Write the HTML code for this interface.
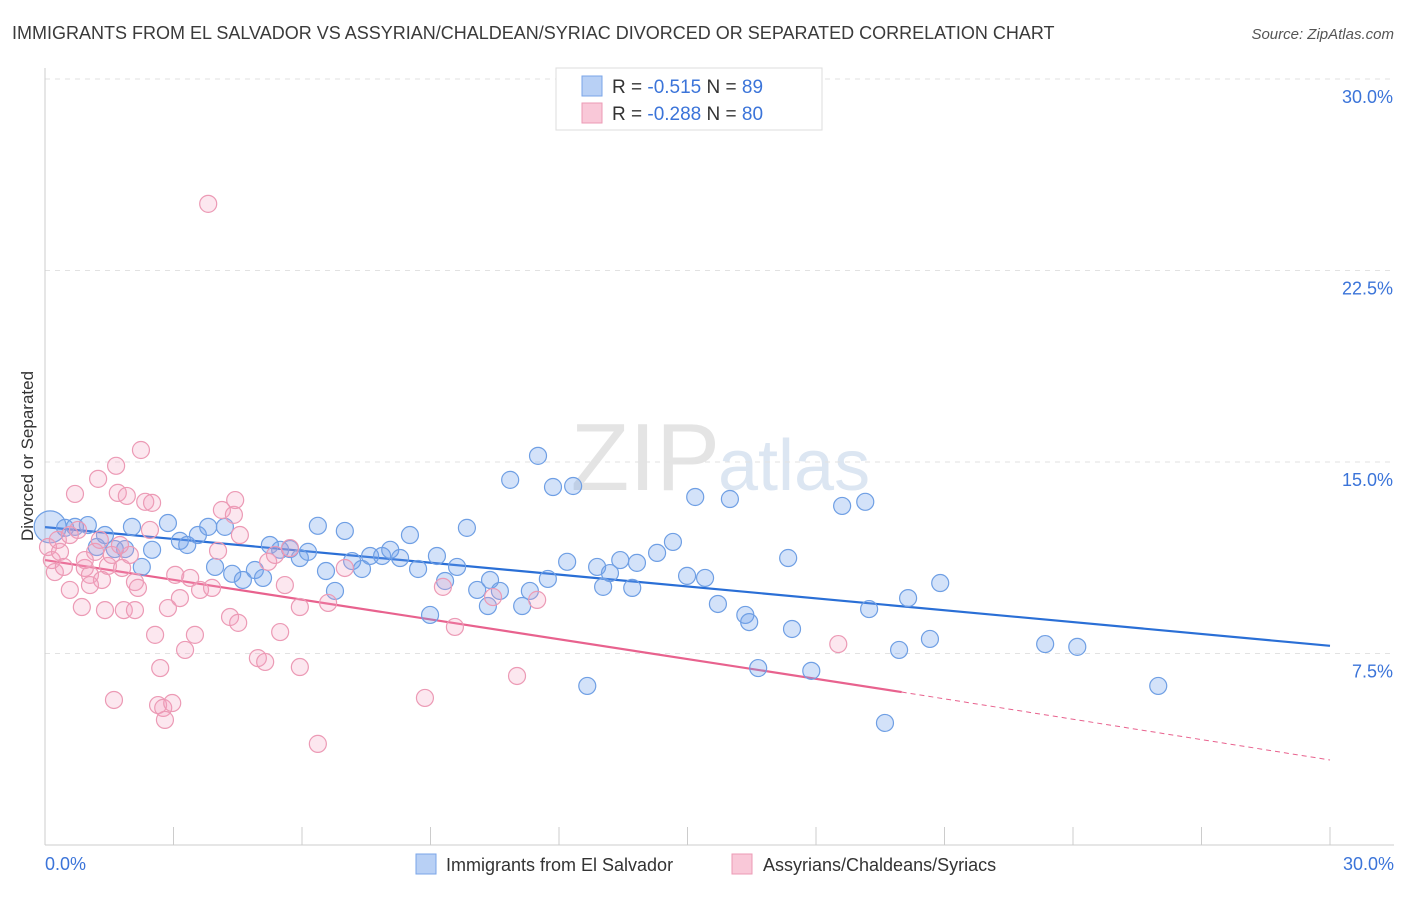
<!DOCTYPE html>
<html><head><meta charset="utf-8"><style>
body{margin:0;background:#fff;font-family:"Liberation Sans",sans-serif}
svg text{font-family:"Liberation Sans",sans-serif}
</style></head><body>
<svg id="chart" width="1406" height="892" xmlns="http://www.w3.org/2000/svg">
<text x="12" y="39" font-size="18" fill="#3a3a3a">IMMIGRANTS FROM EL SALVADOR VS ASSYRIAN/CHALDEAN/SYRIAC DIVORCED OR SEPARATED CORRELATION CHART</text>
<text x="1394" y="39" font-size="15" fill="#555" text-anchor="end" font-style="italic">Source: ZipAtlas.com</text>
<text x="720" y="490" font-size="96" fill="#e4e4e4" text-anchor="end" font-family="Liberation Serif">ZIP</text>
<text x="718" y="490" font-size="72" fill="#dce6f2">atlas</text>
<text transform="translate(33,456) rotate(-90)" font-size="17" fill="#333" text-anchor="middle">Divorced or Separated</text>
<g id="grid"></g><g id="axes"></g><g id="trends"></g><g id="pts"></g>
<g>
<rect x="556" y="68" width="266" height="62" fill="#fff" stroke="#ddd"/>
<rect x="582" y="76" width="20" height="20" fill="#b8d0f5" stroke="#7aa5e8"/>
<text x="612" y="93" font-size="19" fill="#333">R = <tspan fill="#3b74d9">-0.515</tspan>   N = <tspan fill="#3b74d9">89</tspan></text>
<rect x="582" y="103" width="20" height="20" fill="#f9c8d8" stroke="#ec9ab5"/>
<text x="612" y="120" font-size="19" fill="#333">R = <tspan fill="#3b74d9">-0.288</tspan>   N = <tspan fill="#3b74d9">80</tspan></text>
</g>
<g>
<rect x="416" y="854" width="20" height="20" fill="#b8d0f5" stroke="#7aa5e8"/>
<text x="446" y="871" font-size="18" fill="#333">Immigrants from El Salvador</text>
<rect x="732" y="854" width="20" height="20" fill="#f9c8d8" stroke="#ec9ab5"/>
<text x="763" y="871" font-size="18" fill="#333">Assyrians/Chaldeans/Syriacs</text>
</g>
</svg>
<script>
const blueX=[0.12,0.47,0.70,1.00,1.21,1.40,1.63,1.87,2.03,2.26,2.50,2.87,3.15,3.32,3.57,3.81,3.97,4.20,4.37,4.62,4.90,5.09,5.25,5.49,5.72,5.95,6.14,6.37,6.56,6.77,7.00,7.17,7.40,7.59,7.87,8.06,8.29,8.52,8.71,8.99,9.15,9.34,9.62,9.85,10.09,10.34,10.39,10.62,11.14,11.32,10.86,11.51,11.86,12.33,11.74,12.19,12.66,12.89,13.03,13.19,13.43,13.71,13.82,14.29,14.66,14.99,15.18,15.41,15.71,15.99,16.35,16.44,16.65,17.35,17.44,17.89,18.61,19.15,19.24,19.61,19.94,20.15,20.66,20.90,23.35,24.10,25.99];
const blueY=[12.46,12.42,12.46,12.53,11.67,12.14,11.59,11.59,12.46,10.89,11.56,12.61,11.91,11.75,12.14,12.46,10.89,12.46,10.62,10.38,10.77,10.46,11.75,11.56,11.59,11.24,11.48,12.50,10.73,9.95,12.30,11.12,10.81,11.32,11.32,11.56,11.24,12.14,10.81,9.01,11.32,10.34,10.89,12.42,9.99,9.36,10.38,9.95,9.36,9.95,14.30,15.24,14.02,14.06,10.42,11.09,6.23,10.89,10.11,10.65,11.16,10.07,11.05,11.44,11.87,10.54,13.63,10.46,9.44,13.55,9.01,8.73,6.93,11.24,8.46,6.82,13.28,13.44,9.24,4.78,7.64,9.67,8.07,10.26,7.87,7.76,6.23];
const pinkX=[0.07,0.16,0.23,0.35,0.44,0.58,0.70,0.77,0.86,0.93,1.05,1.17,1.24,1.33,1.40,1.47,1.56,1.66,1.70,1.80,1.84,1.91,1.98,2.10,2.17,2.24,2.34,2.45,2.50,2.57,2.69,2.64,2.76,2.80,2.87,2.97,3.04,3.15,3.27,3.39,3.50,3.62,3.81,3.90,4.04,4.13,4.32,4.41,4.51,4.44,4.55,4.97,5.14,5.21,5.37,5.49,5.60,5.72,5.95,5.95,6.37,6.61,7.00,8.87,9.29,9.57,10.46,11.02,11.49,18.52,1.61,2.10,0.30,0.93,1.28,0.58,1.75,1.05];
const pinkY=[11.67,11.16,10.69,11.48,10.89,9.99,13.75,12.34,9.32,10.85,10.58,11.48,14.34,10.38,9.20,10.93,11.36,14.85,13.79,10.85,9.20,13.67,11.36,10.30,10.07,15.47,13.44,12.34,13.40,8.23,6.93,5.48,5.37,4.90,9.28,5.56,10.58,9.67,7.64,10.46,8.23,9.99,25.11,10.07,11.52,13.12,8.93,12.93,8.70,13.51,12.14,7.32,7.17,11.09,11.36,8.34,10.18,11.63,9.32,6.97,3.96,9.48,10.85,5.76,10.11,8.54,9.71,6.62,9.60,7.87,5.68,9.20,11.95,11.16,11.95,12.14,11.75,10.18];
const yTicks=[7.5,15,22.5,30];
const yTickLabels=["7.5%","15.0%","22.5%","30.0%"];
const blueTrend=[0,12.45,30,7.8];
const pinkTrend=[0,11.16,20,5.99,30,3.33];
const NS="http://www.w3.org/2000/svg";
const sx=v=>45+v*(1285/30), sy=v=>845-v*(766/30);
function mk(parent,tag,attrs){const e=document.createElementNS(NS,tag);for(const k in attrs)e.setAttribute(k,attrs[k]);document.getElementById(parent).appendChild(e);return e;}
yTicks.forEach((t,i)=>{
 const l=mk('grid','line',{x1:45,x2:1394,y1:sy(t),y2:sy(t),stroke:'#e2e2e2','stroke-dasharray':'5,5'});
 
 
 const tx=mk('grid','text',{x:1393,y:sy(t)+24,'font-size':18,fill:'#3b74d9','text-anchor':'end'});
 tx.textContent=yTickLabels[i];
 
 
});
const ax=mk('axes','line',{x1:45,x2:45,y1:68,y2:845,stroke:'#ccc'});


const bx=mk('axes','line',{x1:45,x2:1394,y1:845,y2:845,stroke:'#ccc'});


for(let i=0;i<=10;i++){const t=mk('axes','line',{x1:sx(i*3),x2:sx(i*3),y1:827,y2:845,stroke:'#ccc'});
 
 }
[[0,"0.0%","start",45],[30,"30.0%","end",1394]].forEach(a=>{const t=mk('axes','text',{x:a[3],y:870,'font-size':18,fill:'#3b74d9','text-anchor':a[2]});t.textContent=a[1];
 
 });
blueX.forEach((x,i)=>{const c=mk('pts','circle',{cx:sx(x),cy:sy(blueY[i]),r:i==0?16:8.5,fill:'rgba(110,160,235,0.3)',stroke:'#6f9fe4','stroke-width':1.2});
 
 });
pinkX.forEach((x,i)=>{const c=mk('pts','circle',{cx:sx(x),cy:sy(pinkY[i]),r:8.5,fill:'rgba(245,160,190,0.25)',stroke:'#ec9ab5','stroke-width':1.2});
 
 });
const bt=mk('trends','line',{x1:sx(blueTrend[0]),y1:sy(blueTrend[1]),x2:sx(blueTrend[2]),y2:sy(blueTrend[3]),stroke:'#2a6fd6','stroke-width':2.2});


const pt=mk('trends','line',{x1:sx(pinkTrend[0]),y1:sy(pinkTrend[1]),x2:sx(pinkTrend[2]),y2:sy(pinkTrend[3]),stroke:'#e8628e','stroke-width':2.2});


const pd=mk('trends','line',{x1:sx(pinkTrend[2]),y1:sy(pinkTrend[3]),x2:sx(pinkTrend[4]),y2:sy(pinkTrend[5]),stroke:'#e8628e','stroke-width':1,'stroke-dasharray':'5,4'});


</script>
</body></html>
